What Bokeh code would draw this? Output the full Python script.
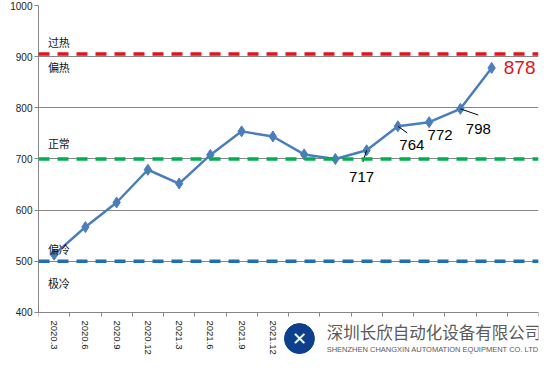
import numpy as np
from bokeh.plotting import figure
from bokeh.models import (Range1d, FixedTicker, Span, Label, ColumnDataSource, LabelSet)
from bokeh.core.properties import value
from bokeh.embed import file_html
from bokeh.resources import INLINE

# ---- data ----
categories = ["2020.3", "2020.6", "2020.9", "2020.12", "2021.3", "2021.6", "2021.9", "2021.12",
              "2022.3", "2022.6", "2022.9", "2022.12", "2023.3", "2023.6", "2023.9", "2023.12"]
values = [513, 567, 615, 679, 652, 708, 754, 744, 709, 700, 717, 764, 772, 798, 878]
visible_tick_labels = 8            # labels after this are hidden by the logo
ref_levels = [905, 700, 500]
ref_colors = ["#E3141B", "#00B050", "#1F6FB4"]
zone_names = ["过热", "偏热", "正常", "偏冷", "极冷"]
zone_values = [928, 880, 731, 525, 458]
annot_idx = [10, 11, 12, 13]
annot_dx = [-5, 14, 11, 18]      # text offsets in px
annot_dy = [-27, -19, -13, -20]
lead_dx = [-0.12, 0.30, 0.0, 0.57]  # leader ends (data units)
lead_dy = [-23, -13, 0, -12]
yticks = [400, 500, 600, 700, 800, 900, 1000]
y_axis_min, y_axis_max = 400, 1000

n = len(categories)
xs = np.arange(len(values)) + 0.5

p = figure(width=542, height=356, output_backend="svg", toolbar_location=None,
           x_range=Range1d(0, n), y_range=Range1d(314, y_axis_max),
           min_border_left=38, min_border_right=4, min_border_top=5, min_border_bottom=0)
p.outline_line_color = None
p.background_fill_color = "white"

# x axis drawn at y = 400 inside the frame
p.xaxis.fixed_location = y_axis_min
p.xaxis.ticker = FixedTicker(ticks=list(np.arange(n) + 0.5), minor_ticks=list(range(n + 1)))
p.xaxis.major_label_overrides = {float(i + 0.5): (c if i < visible_tick_labels else "")
                                 for i, c in enumerate(categories)}
p.xaxis.major_label_orientation = -np.pi / 2
p.xaxis.major_tick_out = 0
p.xaxis.major_tick_in = 0
p.xaxis.minor_tick_out = 4
p.xaxis.minor_tick_in = 0
p.xaxis.minor_tick_line_color = "#868686"
p.xaxis.axis_line_color = "#868686"
p.xaxis.major_label_text_font = "Liberation Sans"
p.xaxis.major_label_text_font_size = "9.5px"
p.xaxis.major_label_text_color = "#222222"
p.xaxis.major_label_standoff = 4

p.yaxis.bounds = (y_axis_min, y_axis_max)
p.yaxis.ticker = FixedTicker(ticks=yticks)
p.yaxis.axis_line_color = "#868686"
p.yaxis.major_tick_line_color = "#868686"
p.yaxis.major_tick_out = 4
p.yaxis.major_tick_in = 0
p.yaxis.minor_tick_line_color = None
p.yaxis.major_label_text_font = "Liberation Sans"
p.yaxis.major_label_text_font_size = "10px"
p.yaxis.major_label_text_color = "#222222"
p.yaxis.major_label_standoff = 2

p.xgrid.grid_line_color = None
p.ygrid.ticker = FixedTicker(ticks=yticks)
p.ygrid.grid_line_color = "#868686"
p.ygrid.grid_line_width = 1

# reference lines
for lv, col in zip(ref_levels, ref_colors):
    p.add_layout(Span(location=lv, dimension="width", line_color=col, line_width=3.5,
                      line_dash="11 8"))

# zone labels
for nm, zv in zip(zone_names, zone_values):
    p.add_layout(Label(x=0.3, y=zv, text=nm, text_font="Noto Sans CJK SC", text_font_size="11px",
                       text_color="#111111", text_baseline="middle", text_align="left"))

# series
p.line(xs, values, line_color="#4A7EBB", line_width=2.5)
p.scatter(xs, values, marker="diamond", size=11, fill_color="#4A7EBB", line_color="#4A7EBB")

# leader lines
ax = np.array([xs[i] for i in annot_idx])
ay = np.array([values[i] for i in annot_idx])
p.segment(ax, ay, ax + np.array(lead_dx), ay + np.array(lead_dy), line_color="black", line_width=1)

# value annotations
src = ColumnDataSource(dict(x=ax, y=ay, t=[str(values[i]) for i in annot_idx],
                            dx=annot_dx, dy=annot_dy))
p.add_layout(LabelSet(x="x", y="y", text="t", x_offset="dx", y_offset="dy", source=src,
                      text_font=value("Liberation Sans"), text_font_size="15px",
                      text_color="black", text_align="center", text_baseline="middle"))
p.add_layout(Label(x=xs[-1], y=values[-1], text=str(values[-1]), x_offset=28,
                   text_font="Liberation Sans", text_font_size="19px", text_color="#E3141B",
                   text_align="center", text_baseline="middle"))

# company logo / watermark (below the axis line)
p.scatter([8.35], [349], marker="circle", size=30, fill_color="#0D3F8C", line_color="#0D3F8C")
p.add_layout(Label(x=8.35, y=349, text="✕", text_font="DejaVu Sans", text_font_size="18px",
                   text_color="white", text_align="center", text_baseline="middle"))
p.add_layout(Label(x=9.22, y=361, text="深圳长欣自动化设备有限公司", text_font="Noto Sans CJK SC",
                   text_font_size="16.5px", text_color="#5A5A5A", text_align="left",
                   text_baseline="middle"))
p.add_layout(Label(x=9.22, y=327, text="SHENZHEN CHANGXIN AUTOMATION EQUIPMENT CO. LTD",
                   text_font="Liberation Sans", text_font_size="7.5px", text_color="#5A5A5A",
                   text_align="left", text_baseline="middle"))

open("out.html", "w").write(file_html(p, INLINE))
